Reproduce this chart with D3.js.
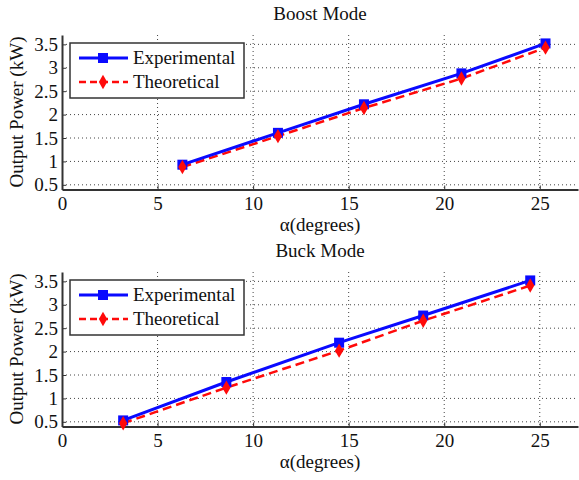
<!DOCTYPE html>
<html>
<head>
<meta charset="utf-8">
<script src="https://cdn.jsdelivr.net/npm/d3@7"></script>
<style>
  body { margin: 0; background: #fff; }
  text { font-family: "Liberation Serif", "DejaVu Serif", serif; fill: #111; }
</style>
</head>
<body>
<div id="chart"></div>
<script>
// data
var seriesNames = ["Experimental", "Theoretical"];
var boostAlpha = [6.3, 11.3, 15.8, 20.9, 25.3];
var boostExp = [0.93, 1.61, 2.22, 2.88, 3.52];
var boostTheo = [0.88, 1.54, 2.14, 2.77, 3.43];
var buckAlpha = [3.2, 8.6, 14.5, 18.9, 24.5];
var buckExp = [0.53, 1.35, 2.19, 2.77, 3.52];
var buckTheo = [0.47, 1.23, 2.02, 2.66, 3.41];
var xTicks = [0, 5, 10, 15, 20, 25];
var yTicks = [0.5, 1, 1.5, 2, 2.5, 3, 3.5];

var W = 579, H = 480;
var svg = d3.select("#chart").append("svg")
  .attr("width", W).attr("height", H);

function panel(top, title, alpha, exp, theo) {
  var x = d3.scaleLinear().domain([0, 27]).range([62, 578]);
  var y = d3.scaleLinear().domain([0.4, 3.7]).range([top + 154.5, top]);
  var g = svg.append("g");

  //dotted grid
  g.selectAll(".gx").data(xTicks.slice(1)).enter().append("line")
    .attr("x1", d => x(d)).attr("x2", d => x(d))
    .attr("y1", y(3.7)).attr("y2", y(0.4))
    .style("stroke", "#444").style("stroke-width", 1).style("stroke-dasharray", "1,3");
  g.selectAll(".gy").data(yTicks).enter().append("line")
    .attr("x1", x(0)).attr("x2", x(27))
    .attr("y1", d => y(d)).attr("y2", d => y(d))
    .style("stroke", "#444").style("stroke-width", 1).style("stroke-dasharray", "1,3");

  //axes, ticks inward
  var xa = g.append("g").attr("transform", "translate(0," + y(0.4) + ")")
    .call(d3.axisBottom(x).tickValues(xTicks).tickSizeInner(-4).tickSizeOuter(0).tickPadding(7).tickFormat(d3.format("d")));
  var ya = g.append("g").attr("transform", "translate(" + x(0) + ",0)")
    .call(d3.axisLeft(y).tickValues(yTicks).tickSizeInner(-4).tickSizeOuter(0).tickPadding(4).tickFormat(d => String(d)));
  [xa, ya].forEach(function (a) {
    a.select(".domain").style("stroke", "#333").style("stroke-width", 2);
    a.selectAll(".tick line").style("stroke", "#333");
    a.selectAll("text").style("font-size", "19px").style("fill", "#111")
      .style("font-family", "'Liberation Serif', serif");
  });

  svg.append("text").attr("x", 320).attr("y", top - 15)
    .attr("text-anchor", "middle").style("font-size", "19px").text(title);
  svg.append("text").attr("x", 320).attr("y", top + 196)
    .attr("text-anchor", "middle").style("font-size", "19px").text("α(degrees)");
  svg.append("text")
    .attr("transform", "translate(23," + (top + 77) + ") rotate(-90)")
    .attr("text-anchor", "middle").style("font-size", "19px").text("Output Power (kW)");

  var line = d3.line().x(d => x(d[0])).y(d => y(d[1]));
  var theoPts = alpha.map((a, i) => [a, theo[i]]);
  var expPts = alpha.map((a, i) => [a, exp[i]]);

  g.append("path").attr("d", line(theoPts))
    .style("fill", "none").style("stroke", "#ff0a0a").style("stroke-width", 2.5)
    .style("stroke-dasharray", "9,5");
  g.append("path").attr("d", line(expPts))
    .style("fill", "none").style("stroke", "#0a0aff").style("stroke-width", 3);

  g.selectAll(".sq").data(expPts).enter().append("rect")
    .attr("x", d => x(d[0]) - 5).attr("y", d => y(d[1]) - 5)
    .attr("width", 10).attr("height", 10).style("fill", "#0a0aff");
  var diamond = d3.symbol().type(d3.symbolDiamond).size(60);
  g.selectAll(".dm").data(theoPts).enter().append("path")
    .attr("d", diamond)
    .attr("transform", d => "translate(" + x(d[0]) + "," + y(d[1]) + ")")
    .style("fill", "#ff0a0a");

  //legend
  var lg = svg.append("g").attr("transform", "translate(70," + (top + 8) + ")");
  lg.append("rect").attr("width", 174).attr("height", 55)
    .style("fill", "#fff").style("stroke", "#333").style("stroke-width", 1.5);
  var colors = ["#0a0aff", "#ff0a0a"];
  seriesNames.forEach(function (n, i) {
    var yy = 15 + i * 24;
    lg.append("line").attr("x1", 9).attr("x2", 58).attr("y1", yy).attr("y2", yy)
      .style("stroke", colors[i]).style("stroke-width", i ? 2.5 : 3)
      .style("stroke-dasharray", i ? "7,4" : null);
    if (i === 0) {
      lg.append("rect").attr("x", 28).attr("y", yy - 5).attr("width", 10).attr("height", 10)
        .style("fill", colors[i]);
    } else {
      lg.append("path").attr("d", diamond).attr("transform", "translate(33," + yy + ")")
        .style("fill", colors[i]);
    }
    lg.append("text").attr("x", 63).attr("y", yy + 6).style("font-size", "19px").text(n);
  });
}

panel(35, "Boost Mode", boostAlpha, boostExp, boostTheo);
panel(272, "Buck Mode", buckAlpha, buckExp, buckTheo);
</script>
</body>
</html>
